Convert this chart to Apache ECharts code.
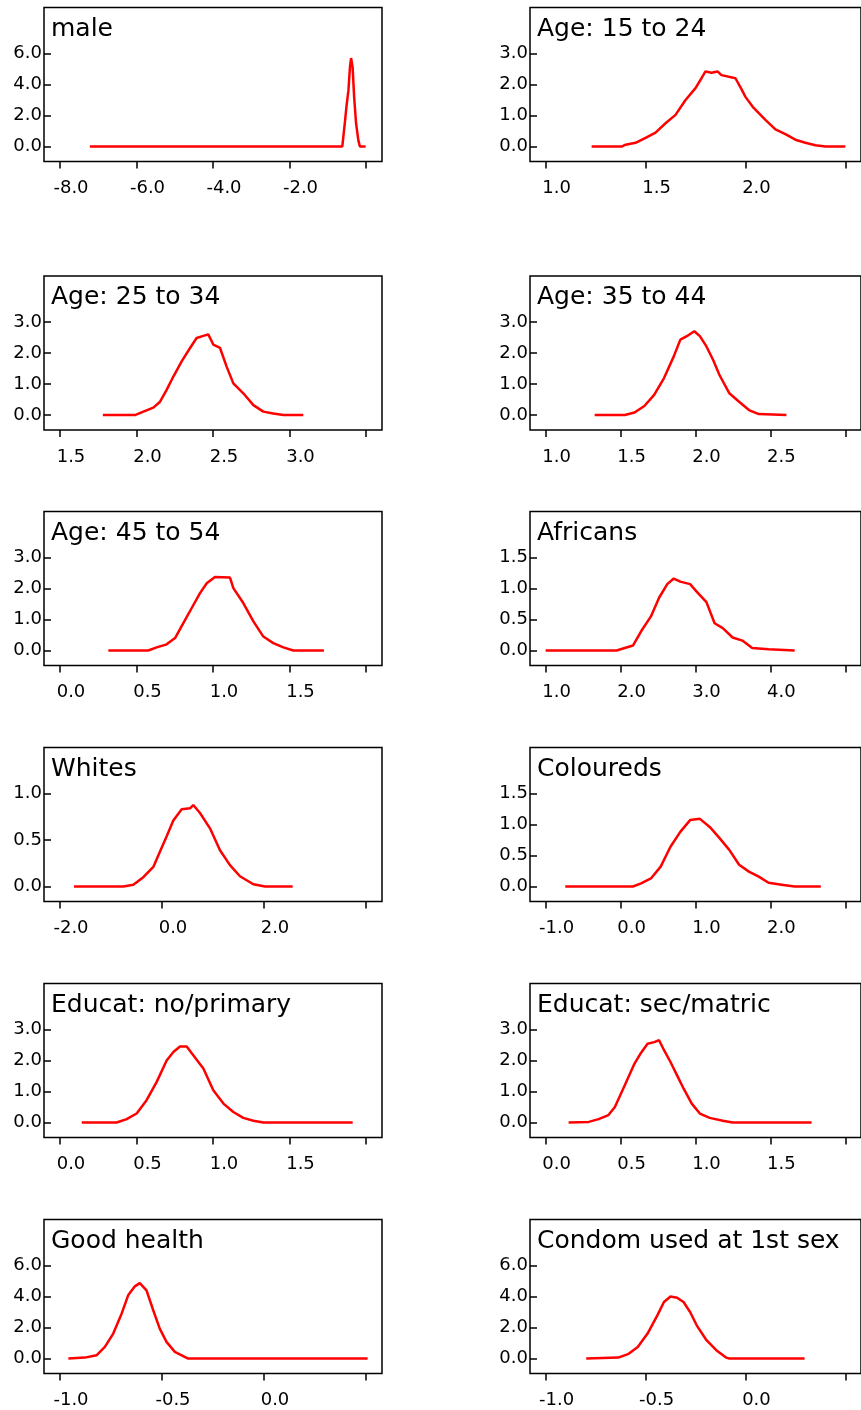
<!DOCTYPE html>
<html>
<head>
<meta charset="utf-8">
<script src="https://cdn.jsdelivr.net/npm/echarts@6/dist/echarts.min.js"></script>
<style>
  html, body { margin: 0; padding: 0; background: #fff; }
  #main { width: 861px; height: 1410px; }
</style>
</head>
<body>
<div id="main"></div>
<script>
// titles of the 12 panels, row by row
const titles = ['male', 'Age: 15 to 24', 'Age: 25 to 34', 'Age: 35 to 44',
  'Age: 45 to 54', 'Africans', 'Whites', 'Coloureds',
  'Educat: no/primary', 'Educat: sec/matric', 'Good health', 'Condom used at 1st sex']

// x ticks (last one has no label)
const xTicks = [
  [-8, -6, -4, -2, 0], [1, 1.5, 2, 2.5],
  [1.5, 2, 2.5, 3, 3.5], [1, 1.5, 2, 2.5, 3],
  [0, 0.5, 1, 1.5, 2], [1, 2, 3, 4, 5],
  [-2, 0, 2, 4], [-1, 0, 1, 2, 3],
  [0, 0.5, 1, 1.5, 2], [0, 0.5, 1, 1.5, 2],
  [-1, -0.5, 0, 0.5], [-1, -0.5, 0, 0.5]
]
const yTicks = [
  [0, 2, 4, 6], [0, 1, 2, 3],
  [0, 1, 2, 3], [0, 1, 2, 3],
  [0, 1, 2, 3], [0, 0.5, 1, 1.5],
  [0, 0.5, 1], [0, 0.5, 1, 1.5],
  [0, 1, 2, 3], [0, 1, 2, 3],
  [0, 2, 4, 6], [0, 2, 4, 6]
]

// density curves [x, y]
const maleCurve = [[-7.22, 0], [-0.62, 0], [-0.59, 0.1], [-0.55, 1.6], [-0.51, 2.6], [-0.46, 3.6], [-0.42, 5.1], [-0.39, 5.7], [-0.35, 5.1], [-0.31, 3.2], [-0.26, 1.5], [-0.2, 0.4], [-0.16, 0], [-0.01, 0]]
const age1524Curve = [[1.23, 0], [1.38, 0], [1.40, 0.06], [1.45, 0.12], [1.50, 0.28], [1.55, 0.45], [1.60, 0.75], [1.65, 1.02], [1.70, 1.5], [1.75, 1.88], [1.78, 2.2], [1.80, 2.42], [1.83, 2.38], [1.86, 2.42], [1.88, 2.3], [1.95, 2.2], [1.98, 1.85], [2.0, 1.6], [2.04, 1.25], [2.1, 0.86], [2.15, 0.55], [2.2, 0.40], [2.25, 0.22], [2.3, 0.12], [2.35, 0.04], [2.4, 0], [2.5, 0]]
const age2534Curve = [[1.78, 0], [1.99, 0], [2.045, 0.11], [2.11, 0.24], [2.154, 0.43], [2.197, 0.81], [2.241, 1.24], [2.295, 1.73], [2.35, 2.16], [2.393, 2.48], [2.437, 2.55], [2.469, 2.6], [2.502, 2.27], [2.546, 2.16], [2.589, 1.56], [2.633, 1.02], [2.698, 0.70], [2.764, 0.32], [2.829, 0.11], [2.894, 0.05], [2.96, 0], [3.09, 0]]
const age3544Curve = [[1.327, 0], [1.528, 0], [1.593, 0.08], [1.659, 0.29], [1.724, 0.65], [1.79, 1.19], [1.855, 1.89], [1.899, 2.43], [1.942, 2.54], [1.992, 2.7], [2.029, 2.54], [2.073, 2.21], [2.117, 1.78], [2.16, 1.29], [2.226, 0.70], [2.291, 0.43], [2.357, 0.16], [2.422, 0.03], [2.607, 0]]
const age4554Curve = [[0.316, 0], [0.577, 0], [0.632, 0.1], [0.697, 0.2], [0.752, 0.4], [0.806, 0.88], [0.861, 1.37], [0.915, 1.85], [0.959, 2.17], [1.013, 2.37], [1.111, 2.35], [1.133, 2.01], [1.198, 1.53], [1.264, 0.94], [1.329, 0.45], [1.394, 0.24], [1.46, 0.1], [1.525, 0], [1.725, 0]]
const africansCurve = [[1.0, 0], [1.947, 0], [2.056, 0.04], [2.165, 0.08], [2.274, 0.31], [2.405, 0.55], [2.514, 0.85], [2.623, 1.07], [2.71, 1.16], [2.797, 1.11], [2.928, 1.07], [3.015, 0.95], [3.146, 0.78], [3.255, 0.44], [3.364, 0.36], [3.495, 0.21], [3.626, 0.16], [3.757, 0.04], [3.975, 0.02], [4.324, 0]]
const whitesCurve = [[-1.725, 0], [-0.758, 0], [-0.562, 0.02], [-0.366, 0.1], [-0.17, 0.21], [-0.039, 0.375], [0.092, 0.54], [0.222, 0.71], [0.386, 0.83], [0.549, 0.84], [0.614, 0.875], [0.745, 0.79], [0.941, 0.625], [1.137, 0.39], [1.333, 0.23], [1.529, 0.11], [1.791, 0.025], [2.02, 0], [2.562, 0]]
const colouredsCurve = [[-0.738, 0], [0.165, 0], [0.274, 0.05], [0.405, 0.13], [0.535, 0.32], [0.666, 0.64], [0.797, 0.88], [0.928, 1.07], [1.059, 1.09], [1.19, 0.96], [1.321, 0.78], [1.451, 0.59], [1.582, 0.35], [1.713, 0.24], [1.844, 0.16], [1.975, 0.06], [2.149, 0.03], [2.324, 0], [2.673, 0]]
const eduPrimaryCurve = [[0.142, 0], [0.37, 0], [0.436, 0.11], [0.501, 0.29], [0.566, 0.72], [0.632, 1.31], [0.697, 2.0], [0.741, 2.27], [0.784, 2.45], [0.828, 2.45], [0.871, 2.17], [0.937, 1.74], [1.002, 1.04], [1.068, 0.61], [1.133, 0.34], [1.198, 0.15], [1.264, 0.06], [1.329, 0], [1.913, 0]]
const eduSecondaryCurve = [[0.153, 0], [0.288, 0.02], [0.353, 0.11], [0.419, 0.24], [0.462, 0.5], [0.528, 1.2], [0.593, 1.9], [0.637, 2.25], [0.68, 2.54], [0.724, 2.59], [0.757, 2.65], [0.79, 2.33], [0.833, 1.95], [0.877, 1.52], [0.921, 1.09], [0.975, 0.61], [1.029, 0.29], [1.095, 0.15], [1.182, 0.06], [1.248, 0], [1.775, 0]]
const goodHealthCurve = [[-0.959, 0], [-0.878, 0.06], [-0.821, 0.21], [-0.78, 0.75], [-0.739, 1.61], [-0.698, 2.89], [-0.666, 4.07], [-0.633, 4.65], [-0.609, 4.86], [-0.576, 4.39], [-0.543, 3.11], [-0.511, 1.93], [-0.478, 1.07], [-0.437, 0.43], [-0.389, 0.11], [-0.372, 0], [0.508, 0]]
const condomCurve = [[-0.797, 0], [-0.637, 0.06], [-0.588, 0.28], [-0.539, 0.75], [-0.49, 1.61], [-0.441, 2.78], [-0.408, 3.64], [-0.375, 4.0], [-0.342, 3.92], [-0.31, 3.64], [-0.277, 3.0], [-0.244, 2.14], [-0.195, 1.18], [-0.146, 0.54], [-0.097, 0.06], [-0.081, 0], [0.296, 0]]

const curves = [maleCurve, age1524Curve, age2534Curve, age3544Curve, age4554Curve, africansCurve,
  whitesCurve, colouredsCurve, eduPrimaryCurve, eduSecondaryCurve, goodHealthCurve, condomCurve]

// layout
const colLeft = [44, 530]
const rowTop = [7.5, 276, 511.5, 747.5, 983.5, 1219.5]
const boxW = 338, boxH = 154, pad = 16
const FONT = 'DejaVu Sans'

const grid = [], xAxis = [], yAxis = [], series = [], title = []
curves.forEach((data, i) => {
  const left = colLeft[i % 2]
  const top = rowTop[Math.floor(i / 2)]
  const xt = xTicks[i], yt = yTicks[i]
  const span = xt[xt.length - 1] - xt[0]
  const ytop = yt[yt.length - 1]
  grid.push({
    left: left, top: top, width: boxW, height: boxH,
    show: true, borderColor: '#000', borderWidth: 1.5, backgroundColor: 'transparent'
  })
  xAxis.push({
    type: 'value', gridIndex: i, position: 'bottom',
    min: xt[0] - span * pad / (boxW - 2 * pad),
    max: xt[xt.length - 1] + span * pad / (boxW - 2 * pad),
    axisLine: { show: false, onZero: false },
    splitLine: { show: false },
    axisTick: { show: true, customValues: xt, length: 7, lineStyle: { color: '#000', width: 1.5 } },
    axisLabel: {
      customValues: xt.slice(0, -1), margin: 18, color: '#000',
      fontFamily: FONT, fontSize: 18,
      padding: [0, 0, 0, 22], // labels sit a bit right of their ticks in the original
      formatter: v => v.toFixed(1)
    }
  })
  yAxis.push({
    type: 'value', gridIndex: i, position: 'left',
    min: -0.1607 * ytop, max: 1.493 * ytop,
    axisLine: { show: false, onZero: false },
    splitLine: { show: false },
    axisTick: { show: true, inside: true, customValues: yt, length: 7, lineStyle: { color: '#000', width: 1.5 } },
    axisLabel: {
      customValues: yt, margin: 2, color: '#000',
      fontFamily: FONT, fontSize: 18,
      formatter: v => v.toFixed(1)
    }
  })
  series.push({
    type: 'line', xAxisIndex: i, yAxisIndex: i,
    data: data, showSymbol: false, symbol: 'none',
    lineStyle: { color: '#ff0000', width: 2.5 },
    animation: false
  })
  title.push({
    text: titles[i], left: left + 7, top: top + 9, padding: 0,
    textStyle: { fontFamily: FONT, fontSize: 25, lineHeight: 25, fontWeight: 'normal', color: '#000' }
  })
})

const chart = echarts.init(document.getElementById('main'), null, { renderer: 'canvas' })
chart.setOption({
  backgroundColor: '#fff',
  animation: false,
  title: title,
  grid: grid,
  xAxis: xAxis,
  yAxis: yAxis,
  series: series
})
</script>
</body>
</html>
